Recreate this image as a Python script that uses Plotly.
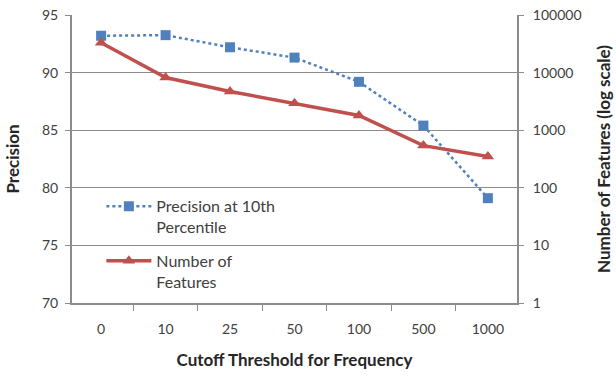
import plotly.graph_objects as go

categories = ["0", "10", "25", "50", "100", "500", "1000"]
precision = [93.2, 93.25, 92.2, 91.3, 89.2, 85.4, 79.1]
num_features = [33000, 8200, 4700, 2950, 1800, 540, 350]
left_ticks = [70, 75, 80, 85, 90, 95]
right_ticks = [1, 10, 100, 1000, 10000, 100000]

BLUE = "#4F81BD"
RED = "#C0504D"
GRID = "#8C8C8C"
TXT = "#404040"
TITLE = "#262626"
FONT = "Lato"

fig = go.Figure()
fig.add_trace(go.Scatter(
    x=categories, y=precision, name="Precision at 10th<br>Percentile",
    mode="lines+markers", legendgroup="prec",
    line=dict(color=BLUE, width=2.5, dash="dot"),
    marker=dict(symbol="square", size=10, color=BLUE),
    yaxis="y",
))
fig.add_trace(go.Scatter(
    x=categories, y=num_features, name="Number of<br>Features",
    mode="lines+markers", legendgroup="feat",
    line=dict(color=RED, width=3.5),
    marker=dict(symbol="triangle-up", size=11, color=RED),
    yaxis="y2",
))

fig.update_layout(
    width=616, height=378,
    margin=dict(l=72, r=99, t=15, b=75, autoexpand=False),
    paper_bgcolor="white", plot_bgcolor="white",
    font=dict(family=FONT, size=14, color=TXT),
    showlegend=True,
    legend=dict(
        x=0.066, y=0.395, xanchor="left", yanchor="top",
        bgcolor="rgba(0,0,0,0)", valign="top",
        font=dict(family=FONT, size=16, color=TXT),
        itemwidth=45,
        tracegroupgap=10,
    ),
    xaxis=dict(
        type="category", tickson="boundaries",
        ticks="outside", ticklen=6, tickcolor=GRID, tickwidth=1,
        showline=True, linecolor=GRID, linewidth=2,
        showgrid=False, zeroline=False, automargin=False,
        ticklabelstandoff=12,
        tickfont=dict(size=14, color=TXT),
        title=dict(text="<b>Cutoff Threshold for Frequency</b>",
                   font=dict(size=17, color=TITLE), standoff=18),
    ),
    yaxis=dict(
        range=[70, 95], tickvals=left_ticks,
        ticks="outside", ticklen=5, tickcolor=GRID,
        showline=True, linecolor=GRID, linewidth=2,
        showgrid=True, gridcolor=GRID, gridwidth=1,
        zeroline=False, automargin=False,
        ticklabelstandoff=4,
        tickfont=dict(size=14, color=TXT),
        title=dict(text="<b>Precision</b>",
                   font=dict(size=17, color=TITLE), standoff=18),
    ),
    yaxis2=dict(
        type="log", range=[0, 5], overlaying="y", side="right",
        tickvals=right_ticks, ticktext=[str(v) for v in right_ticks],
        ticks="outside", ticklen=5, tickcolor=GRID,
        showline=True, linecolor=GRID, linewidth=2,
        showgrid=False, zeroline=False, automargin=False,
        ticklabelstandoff=6,
        tickfont=dict(size=14, color=TXT),
        title=dict(text="<b>Number of Features (log scale)</b>",
                   font=dict(size=17, color=TITLE), standoff=18),
    ),
)

fig.write_html("out.html")
